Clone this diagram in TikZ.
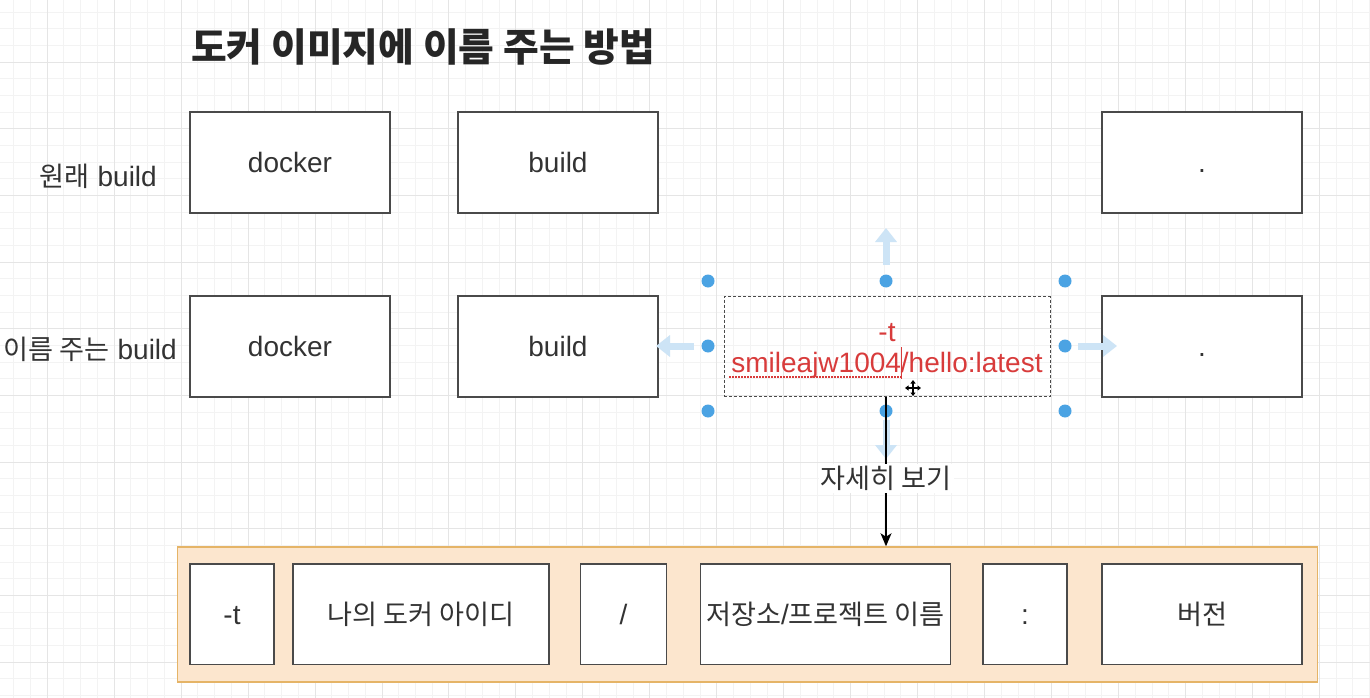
\documentclass[tikz,border=0pt]{standalone}
\usepackage{fontspec}
\setmainfont{Liberation Sans}
\newfontfamily\kr{Noto Sans CJK KR}[Scale=0.97]
\usetikzlibrary{arrows.meta,calc}
\definecolor{gridminor}{HTML}{F3F3F3}
\definecolor{gridmajor}{HTML}{E5E5E5}
\definecolor{boxline}{HTML}{4A4A4A}
\definecolor{txt}{HTML}{333333}
\definecolor{redtxt}{HTML}{D83B3B}
\definecolor{contfill}{HTML}{FCE6CE}
\definecolor{contline}{HTML}{E5B467}
\definecolor{handle}{HTML}{4BA3E3}
\definecolor{hint}{HTML}{CDE4F6}
\tikzset{
  box/.style={draw=boxline, line width=1.3pt, fill=white, inner sep=0pt,
    minimum width=200pt, minimum height=101pt, text=txt,
    text height=20pt, text depth=0pt,
    font=\fontsize{28}{32}\selectfont},
  lbl/.style={inner sep=0pt, text=txt, font=\fontsize{28}{32}\selectfont},
  dot/.style={circle, fill=handle, inner sep=0pt, minimum size=13pt},
  hintarrow/.style={draw=hint, line width=7pt, -{Triangle[length=14pt,width=21pt]}},
}
\begin{document}
\begin{tikzpicture}[x=1pt,y=-1pt]
\useasboundingbox (0,0) rectangle (1370,698);
\fill[white] (0,0) rectangle (1370,698);
% grid
\foreach \k in {-2,...,79}{
  \pgfmathsetmacro\xx{round(46.7+16.74*\k)+0.5}
  \draw[gridminor, line width=1pt] (\xx,0) -- (\xx,698);}
\foreach \k in {-3,...,38}{
  \pgfmathsetmacro\yy{round(61.7+16.67*\k)+0.5}
  \draw[gridminor, line width=1pt] (0,\yy) -- (1370,\yy);}
\foreach \k in {0,...,19}{
  \pgfmathsetmacro\xx{round(46.7+66.96*\k)+0.5}
  \draw[gridmajor, line width=1pt] (\xx,0) -- (\xx,698);}
\foreach \k in {0,...,9}{
  \pgfmathsetmacro\yy{round(61.7+66.67*\k)+0.5}
  \draw[gridmajor, line width=1pt] (0,\yy) -- (1370,\yy);}

% title
\node[inner sep=0pt, anchor=west, text=black!85, font=\kr\bfseries\fontsize{40}{44}\selectfont] (title) at (191,47) {도커 이미지에 이름 주는 방법};

% row 1
\node[box] (docker1) at (290,162.5) {docker};
\node[box] (build1) at (558,162.5) {build};
\node[box] (dot1) at (1202,162.5) {.};
\node[lbl, anchor=east] (row1) at (157,176) {{\kr 원래} build};

% row 2
\node[box] (docker2) at (290,346.5) {docker};
\node[box] (build2) at (558,346.5) {build};
\node[box] (dot2) at (1202,346.5) {.};
\node[lbl, anchor=east] (row2) at (177,349) {{\kr 이름 주는} build};

% selection hint arrows
\coordinate (hu1) at (886,265); \coordinate (hu2) at (886,228);
\coordinate (hl1) at (694,346); \coordinate (hl2) at (656,346);
\coordinate (hr1) at (1078,346); \coordinate (hr2) at (1117,346);
\coordinate (hd1) at (886,420); \coordinate (hd2) at (886,459);
\draw[hintarrow] (hu1) -- (hu2);
\draw[hintarrow] (hl1) -- (hl2);
\draw[hintarrow] (hr1) -- (hr2);
\draw[hintarrow] (hd1) -- (hd2);

% dashed editing box
\node[draw=boxline, dashed, dash pattern=on 3pt off 2pt, line width=1pt,
  minimum width=326pt, minimum height=100pt, inner sep=0pt] (tag) at (887,346.5) {};
\node[align=center, inner sep=0pt, text=redtxt, font=\fontsize{28}{31}\selectfont]
  (tagtext) at (887,350.5) {-t\\smileajw1004/hello:latest};
\draw[redtxt, line width=1.3pt, dash pattern=on 1.5pt off 1.5pt] (729,377) -- (902,377);
\draw[redtxt, line width=0.8pt] (901.5,347) -- (901.5,379);

% handles
\node[dot] (h1) at (708,281) {};
\node[dot] (h2) at (886,281) {};
\node[dot] (h3) at (1065,281) {};
\node[dot] (h4) at (708,346) {};
\node[dot] (h5) at (1065,346) {};
\node[dot] (h6) at (708,411) {};
\node[dot] (h7) at (886,411) {};
\node[dot] (h8) at (1065,411) {};

% container
\node[draw=contline, fill=contfill, line width=1.5pt, minimum width=1140pt,
  minimum height=135pt, inner sep=0pt] (cont) at (747.5,614.5) {};
\node[box, minimum width=84pt, minimum height=100.5pt] (b1) at (232,614.3) {-t};
\node[box, minimum width=256pt, minimum height=100.5pt] (b2) at (421,614.3) {\kr 나의 도커 아이디};
\node[box, minimum width=86pt, minimum height=100.5pt] (b3) at (623.5,614.3) {/};
\node[box, minimum width=250pt, minimum height=100.5pt] (b4) at (825.5,614.3) {{\kr 저장소}/{\kr 프로젝트 이름}};
\node[box, minimum width=84pt, minimum height=100.5pt] (b5) at (1025,614.3) {:};
\node[box, minimum width=200pt, minimum height=100.5pt] (b6) at (1202,614.3) {\kr 버전};

% connector
\draw[black, line width=1.2pt, -{Stealth[length=13pt,width=11pt,inset=3.5pt]}]
  (tag.south -| h7) -- (h7 |- cont.north)
  node[pos=0.545, fill=white, inner sep=2pt, text=txt, font=\kr\fontsize{28}{32}\selectfont] (lab) {자세히 보기};

% move cursor
\coordinate (mc) at (913,388);
\draw[black, line width=1.4pt, {Triangle[length=3.5pt,width=5pt]}-{Triangle[length=3.5pt,width=5pt]}] ($(mc)+(-8,0)$) -- ($(mc)+(8,0)$);
\draw[black, line width=1.4pt, {Triangle[length=3.5pt,width=5pt]}-{Triangle[length=3.5pt,width=5pt]}] ($(mc)+(0,-8)$) -- ($(mc)+(0,8)$);
\end{tikzpicture}
\end{document}
